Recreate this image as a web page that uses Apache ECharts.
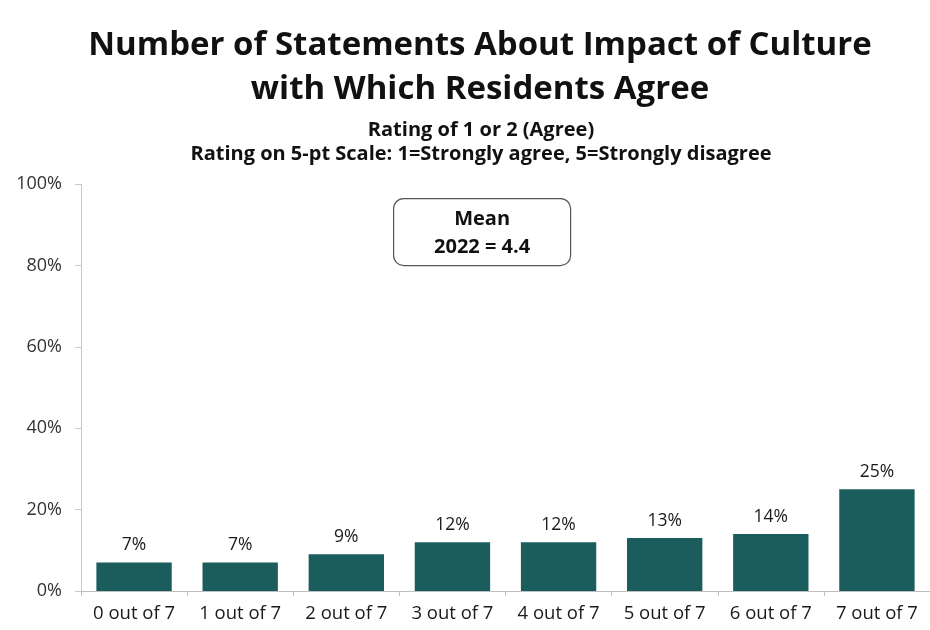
<!DOCTYPE html>
<html>
<head>
<meta charset="utf-8">
<script src="https://cdn.jsdelivr.net/npm/echarts@6/dist/echarts.min.js"></script>
<style>
  html, body { margin: 0; padding: 0; background: #ffffff; }
  #chart { width: 930px; height: 630px; }
</style>
</head>
<body>
<div id="chart"></div>
<script>
// Share of residents agreeing with N of the 7 culture-impact statements
const categories = ['0 out of 7', '1 out of 7', '2 out of 7', '3 out of 7', '4 out of 7', '5 out of 7', '6 out of 7', '7 out of 7'];
const agreeShare = [7, 7, 9, 12, 12, 13, 14, 25];
const yTicks = [0, 20, 40, 60, 80, 100];
const meanLabel = ['Mean', '2022 = 4.4'];

const FONT = '"Open Sans", Lato, sans-serif';
const chart = echarts.init(document.getElementById('chart'), null, { renderer: 'canvas' });

chart.setOption({
  backgroundColor: '#ffffff',
  animation: false,
  title: [
    {
      text: 'Number of Statements About Impact of Culture\nwith Which Residents Agree',
      left: 475,
      textAlign: 'center',
      top: 19,
      textStyle: { fontFamily: FONT, fontSize: 33, fontWeight: 'bold', color: '#111111', lineHeight: 44 }
    },
    {
      text: 'Rating of 1 or 2 (Agree)\nRating on 5-pt Scale: 1=Strongly agree, 5=Strongly disagree',
      left: 476,
      textAlign: 'center',
      top: 113,
      textStyle: { fontFamily: FONT, fontSize: 20, fontWeight: 'bold', color: '#111111', lineHeight: 24 }
    }
  ],
  grid: { left: 81, right: -9, top: 184, bottom: 39, containLabel: false },
  xAxis: {
    type: 'category',
    data: categories,
    axisLine: { show: true, lineStyle: { color: '#bfbfbf', width: 1 } },
    axisTick: { show: true, length: 5, lineStyle: { color: '#bfbfbf' } },
    axisLabel: { interval: 0, hideOverlap: false, fontFamily: FONT, fontSize: 18.5, color: '#1a1a1a', margin: 13 }
  },
  yAxis: {
    type: 'value',
    min: yTicks[0],
    max: yTicks[yTicks.length - 1],
    interval: 20,
    axisLine: { show: true, lineStyle: { color: '#c8c8c8', width: 1 } },
    axisTick: { show: true, length: 6, lineStyle: { color: '#c8c8c8' } },
    splitLine: { show: false },
    axisLabel: { fontFamily: FONT, fontSize: 18, color: '#333333', margin: 19, formatter: v => v + '%' }
  },
  series: [{
    type: 'bar',
    data: agreeShare,
    barCategoryGap: '29%',
    itemStyle: { color: '#1b5c5d' },
    label: {
      show: true,
      position: 'top',
      distance: 8,
      fontFamily: FONT,
      fontSize: 17.5,
      color: '#1a1a1a',
      formatter: p => p.value + '%'
    }
  }],
  graphic: [{
    type: 'group',
    left: 393,
    top: 198,
    children: [
      {
        type: 'rect',
        shape: { x: 0, y: 0, width: 177, height: 67, r: 10 },
        style: { fill: '#ffffff', stroke: '#555555', lineWidth: 1.2 }
      },
      {
        type: 'text',
        style: {
          x: 88.5, y: 21, text: meanLabel[0], align: 'center', verticalAlign: 'middle',
          font: 'bold 20px ' + FONT, fill: '#111111'
        }
      },
      {
        type: 'text',
        style: {
          x: 88.5, y: 49, text: meanLabel[1], align: 'center', verticalAlign: 'middle',
          font: 'bold 20px ' + FONT, fill: '#111111'
        }
      }
    ]
  }]
});
</script>
</body>
</html>
